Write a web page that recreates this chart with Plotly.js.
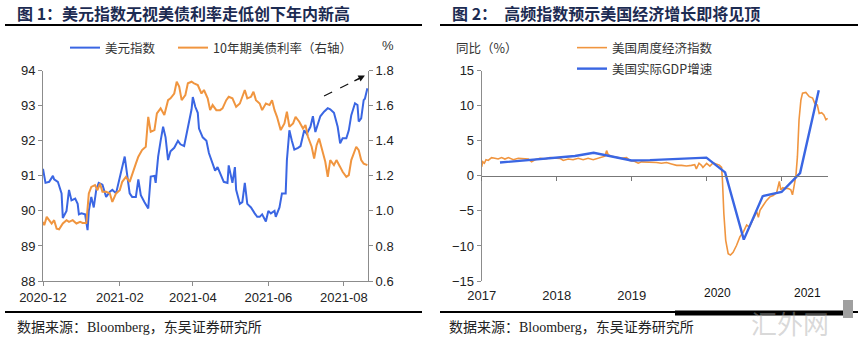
<!DOCTYPE html>
<html>
<head>
<meta charset="utf-8">
<script src="https://cdn.plot.ly/plotly-3.0.1.min.js"></script>
<style>html,body{margin:0;padding:0;background:#fff;}#chart{width:858px;height:341px;}</style>
</head>
<body>
<div id="chart"></div>
<script>
// ---- Figure 1: DXY vs US 10Y yield ----
const dxyDates = ['2020-12-01','2020-12-03','2020-12-06','2020-12-09','2020-12-10','2020-12-13','2020-12-16','2020-12-17','2020-12-20','2020-12-22','2020-12-24','2020-12-27','2020-12-29','2020-12-30','2021-01-01','2021-01-04','2021-01-06','2021-01-07','2021-01-09','2021-01-11','2021-01-13','2021-01-15','2021-01-18','2021-01-21','2021-01-24','2021-01-26','2021-01-29','2021-02-01','2021-02-03','2021-02-05','2021-02-07','2021-02-09','2021-02-11','2021-02-14','2021-02-16','2021-02-18','2021-02-21','2021-02-24','2021-02-26','2021-03-01','2021-03-02','2021-03-04','2021-03-06','2021-03-08','2021-03-10','2021-03-12','2021-03-14','2021-03-17','2021-03-20','2021-03-22','2021-03-25','2021-03-28','2021-03-31','2021-04-01','2021-04-03','2021-04-05','2021-04-06','2021-04-09','2021-04-12','2021-04-14','2021-04-17','2021-04-19','2021-04-21','2021-04-24','2021-04-26','2021-04-29','2021-04-30','2021-05-03','2021-05-05','2021-05-06','2021-05-09','2021-05-11','2021-05-13','2021-05-15','2021-05-18','2021-05-21','2021-05-23','2021-05-25','2021-05-27','2021-05-30','2021-06-01','2021-06-03','2021-06-06','2021-06-07','2021-06-10','2021-06-12','2021-06-15','2021-06-16','2021-06-18','2021-06-20','2021-06-22','2021-06-25','2021-06-27','2021-06-30','2021-07-02','2021-07-05','2021-07-07','2021-07-09','2021-07-11','2021-07-13','2021-07-16','2021-07-19','2021-07-21','2021-07-24','2021-07-27','2021-07-29','2021-07-31','2021-08-03','2021-08-05','2021-08-07','2021-08-10','2021-08-12','2021-08-13','2021-08-15','2021-08-17','2021-08-18','2021-08-20'];
const dxyValues = [91.2,90.8,90.83,91.0,90.9,90.83,90.5,89.8,90.0,90.6,90.3,90.35,90.2,89.9,89.93,89.9,89.45,90.0,90.4,90.1,90.6,90.8,90.75,90.4,90.55,90.6,90.5,91.0,91.25,91.55,90.95,90.5,90.4,90.4,90.9,90.45,90.25,90.07,90.98,91.0,90.8,91.55,92.0,92.4,92.1,91.45,91.7,91.8,92.0,91.9,91.85,92.4,92.9,93.25,92.97,92.8,92.35,92.1,92.0,91.65,91.35,91.15,91.25,90.98,90.83,90.8,91.3,90.8,91.25,90.6,90.2,90.25,90.8,90.2,90.1,89.93,89.83,89.83,89.9,89.7,90.0,89.93,90.0,89.83,90.1,90.5,90.5,91.45,92.3,92.0,91.75,91.8,91.85,92.3,92.2,92.4,92.7,92.25,92.5,92.7,92.83,92.93,92.9,92.8,92.4,91.93,92.07,92.07,92.3,92.73,93.07,93.02,92.55,92.64,93.16,93.2,93.5];

const ustDates = ['2020-12-01','2020-12-02','2020-12-04','2020-12-06','2020-12-08','2020-12-10','2020-12-12','2020-12-14','2020-12-17','2020-12-20','2020-12-22','2020-12-25','2020-12-28','2020-12-31','2021-01-02','2021-01-05','2021-01-07','2021-01-09','2021-01-12','2021-01-14','2021-01-16','2021-01-18','2021-01-21','2021-01-24','2021-01-26','2021-01-29','2021-02-01','2021-02-03','2021-02-06','2021-02-09','2021-02-11','2021-02-14','2021-02-16','2021-02-19','2021-02-22','2021-02-24','2021-02-26','2021-03-01','2021-03-03','2021-03-06','2021-03-09','2021-03-12','2021-03-14','2021-03-17','2021-03-19','2021-03-21','2021-03-23','2021-03-26','2021-03-28','2021-03-31','2021-04-02','2021-04-05','2021-04-08','2021-04-10','2021-04-13','2021-04-15','2021-04-17','2021-04-20','2021-04-23','2021-04-25','2021-04-28','2021-04-30','2021-05-03','2021-05-06','2021-05-09','2021-05-11','2021-05-13','2021-05-15','2021-05-18','2021-05-20','2021-05-22','2021-05-25','2021-05-27','2021-05-30','2021-06-02','2021-06-04','2021-06-06','2021-06-08','2021-06-11','2021-06-14','2021-06-16','2021-06-18','2021-06-21','2021-06-23','2021-06-26','2021-06-29','2021-07-01','2021-07-03','2021-07-06','2021-07-08','2021-07-10','2021-07-12','2021-07-15','2021-07-17','2021-07-19','2021-07-21','2021-07-24','2021-07-26','2021-07-29','2021-07-31','2021-08-03','2021-08-05','2021-08-07','2021-08-09','2021-08-11','2021-08-13','2021-08-15','2021-08-17','2021-08-20'];
const ustValues = [0.937,0.918,0.966,0.947,0.928,0.947,0.899,0.895,0.928,0.947,0.937,0.947,0.928,0.937,0.931,0.931,1.10,1.137,1.147,1.118,1.156,1.109,1.109,1.10,1.051,1.10,1.118,1.166,1.194,1.166,1.213,1.27,1.309,1.347,1.366,1.537,1.451,1.461,1.556,1.585,1.547,1.632,1.642,1.67,1.737,1.709,1.632,1.661,1.728,1.737,1.728,1.718,1.67,1.69,1.642,1.575,1.604,1.575,1.575,1.585,1.632,1.651,1.642,1.594,1.613,1.651,1.69,1.642,1.651,1.68,1.632,1.613,1.575,1.613,1.604,1.632,1.575,1.537,1.461,1.499,1.566,1.48,1.499,1.537,1.509,1.47,1.49,1.423,1.366,1.299,1.375,1.413,1.328,1.28,1.194,1.29,1.261,1.29,1.251,1.223,1.194,1.204,1.29,1.328,1.366,1.347,1.29,1.27,1.261];

const fig1Ticks = ['2020-12-01','2021-02-01','2021-04-01','2021-06-01','2021-08-01'];
const fig1TickText = ['2020-12','2021-02','2021-04','2021-06','2021-08'];

// ---- Figure 2: weekly economic index vs real GDP yoy ----
const weiDates = ['2017-01-01','2017-01-06','2017-01-14','2017-01-22','2017-02-02','2017-02-18','2017-03-06','2017-03-22','2017-04-08','2017-04-24','2017-05-11','2017-06-04','2017-06-28','2017-07-23','2017-08-16','2017-09-01','2017-09-17','2017-10-12','2017-11-05','2017-11-29','2017-12-23','2018-01-17','2018-02-02','2018-02-26','2018-03-22','2018-04-16','2018-05-10','2018-06-03','2018-06-28','2018-07-23','2018-08-08','2018-08-24','2018-09-01','2018-09-09','2018-09-25','2018-10-19','2018-11-12','2018-12-07','2018-12-23','2019-01-12','2019-02-02','2019-02-18','2019-03-14','2019-04-08','2019-05-02','2019-05-26','2019-06-20','2019-07-14','2019-08-08','2019-09-01','2019-09-25','2019-10-19','2019-11-04','2019-11-12','2019-11-25','2019-12-07','2019-12-14','2020-01-01','2020-01-17','2020-02-02','2020-02-18','2020-03-03','2020-03-14','2020-03-18','2020-03-25','2020-04-03','2020-04-15','2020-04-26','2020-05-09','2020-05-26','2020-06-11','2020-06-28','2020-07-14','2020-07-27','2020-08-16','2020-09-01','2020-09-09','2020-09-17','2020-10-03','2020-10-19','2020-11-04','2020-11-20','2020-12-07','2020-12-20','2020-12-27','2021-01-06','2021-01-17','2021-02-02','2021-02-14','2021-02-22','2021-03-01','2021-03-11','2021-03-18','2021-03-26','2021-04-04','2021-04-12','2021-04-28','2021-05-15','2021-05-31','2021-06-11','2021-06-23','2021-07-02','2021-07-14','2021-07-25','2021-08-04','2021-08-12'];
const weiValues = [1.3,2.0,1.8,2.3,2.2,2.6,2.5,2.4,2.6,2.4,2.6,2.3,2.5,2.4,2.4,2.0,2.3,2.5,2.4,2.6,2.6,2.5,2.2,2.4,2.3,2.5,2.3,2.5,2.3,2.5,2.7,2.8,3.6,3.0,2.8,2.7,2.5,2.6,2.2,2.1,1.8,2.0,2.0,1.9,1.9,1.8,1.9,1.7,1.5,1.5,1.4,1.5,1.6,1.0,1.8,1.5,1.2,1.77,1.39,1.86,1.67,1.53,1.2,-0.6,-5.4,-9.2,-11.1,-11.3,-10.9,-9.9,-8.7,-8.0,-7.0,-7.3,-6.1,-5.1,-5.9,-4.9,-4.2,-3.5,-3.0,-2.8,-2.4,-0.8,-2.0,-1.7,-1.8,-1.8,-2.0,-2.7,-1.6,0.1,2.7,8.0,10.8,11.8,11.9,11.3,11.1,10.3,10.1,8.9,9.0,8.7,8.0,8.2];

const gdpDates = ['2017-03-31','2017-06-30','2017-09-30','2017-12-31','2018-03-31','2018-06-30','2018-09-30','2018-12-31','2019-03-31','2019-06-30','2019-09-30','2019-12-31','2020-03-31','2020-06-30','2020-09-30','2020-12-31','2021-03-31','2021-06-30'];
const gdpValues = [1.9,2.13,2.37,2.6,2.83,3.3,2.75,2.2,2.25,2.35,2.45,2.6,0.5,-9.1,-2.9,-2.3,0.4,12.2];

const fig2Ticks = ['2017-01-01','2018-01-01','2019-01-01','2020-01-01','2021-01-01'];
const fig2TickText = ['2017','2018','2019','',''];

const BLUE = '#3a66e3';
const ORANGE = '#f0953f';
const AXIS = '#8c8c8c';
const W = 858, H = 341;
const px = v => v / W;
const py = v => (H - v) / H;
const CJK = 'Noto Sans CJK SC';
const SANS = 'Liberation Sans, Arial, Noto Sans CJK SC';

const traces = [
  {x: dxyDates, y: dxyValues, name: '美元指数', type: 'scatter', mode: 'lines',
   line: {color: BLUE, width: 2}, xaxis: 'x', yaxis: 'y', legend: 'legend'},
  {x: ustDates, y: ustValues, name: '10年期美债利率（右轴）', type: 'scatter', mode: 'lines',
   line: {color: ORANGE, width: 2}, xaxis: 'x', yaxis: 'y2', legend: 'legend3'},
  {x: weiDates, y: weiValues, name: '美国周度经济指数', type: 'scatter', mode: 'lines',
   line: {color: ORANGE, width: 1.6}, xaxis: 'x2', yaxis: 'y3', legend: 'legend2'},
  {x: gdpDates, y: gdpValues, name: '美国实际GDP增速', type: 'scatter', mode: 'lines',
   line: {color: BLUE, width: 2.4}, xaxis: 'x2', yaxis: 'y3', legend: 'legend4'}
];

const axBase = {showgrid: false, zeroline: false, showline: true, linecolor: AXIS, linewidth: 1,
  ticks: 'outside', ticklen: 4, tickcolor: AXIS, tickwidth: 1, fixedrange: true,
  tickfont: {family: SANS, size: 13, color: '#222'}};

const yDom = [py(281), py(70.7)];

const legBase = {orientation: 'h', xanchor: 'left', yanchor: 'middle', bgcolor: 'rgba(0,0,0,0)',
  borderwidth: 0, font: {family: CJK, size: 12.5, color: '#333'}, itemclick: false, itemdoubleclick: false};

const layout = {
  width: W, height: H,
  margin: {l: 0, r: 0, t: 0, b: 0},
  paper_bgcolor: '#fff', plot_bgcolor: '#fff',
  showlegend: true,
  font: {family: SANS, size: 13, color: '#222'},
  xaxis: Object.assign({}, axBase, {domain: [px(43), px(368)], type: 'date',
    range: ['2020-12-01', '2021-08-20 12:00'], tickmode: 'array', tickvals: fig1Ticks, ticktext: fig1TickText, anchor: 'y'}),
  yaxis: Object.assign({}, axBase, {domain: yDom, range: [88, 94], dtick: 1, tick0: 88, anchor: 'x'}),
  yaxis2: Object.assign({}, axBase, {domain: yDom, range: [0.6, 1.8], dtick: 0.2, tick0: 0.6, tickformat: '.1f',
    overlaying: 'y', side: 'right', anchor: 'x'}),
  xaxis2: Object.assign({}, axBase, {domain: [px(481.7), px(828)], type: 'date',
    range: ['2017-01-01', '2021-08-14'], tickmode: 'array', tickvals: fig2Ticks, ticktext: fig2TickText,
    anchor: 'free', position: py(175.7), ticklabelstandoff: 104, linecolor: '#777', tickcolor: '#777'}),
  yaxis3: Object.assign({}, axBase, {domain: yDom, range: [-15, 15], dtick: 5, tick0: -15, anchor: 'x2'}),
  legend: Object.assign({}, legBase, {x: px(65), y: py(48)}),
  legend3: Object.assign({}, legBase, {x: px(173), y: py(48)}),
  legend2: Object.assign({}, legBase, {x: px(572), y: py(48)}),
  legend4: Object.assign({}, legBase, {x: px(572), y: py(69)}),
  shapes: [
    {type: 'line', xref: 'paper', yref: 'paper', x0: px(5), x1: px(422), y0: py(25), y1: py(25), line: {color: '#000', width: 2}},
    {type: 'line', xref: 'paper', yref: 'paper', x0: px(440), x1: px(858), y0: py(25), y1: py(25), line: {color: '#000', width: 2}},
    {type: 'line', xref: 'paper', yref: 'paper', x0: px(5), x1: px(422), y0: py(312), y1: py(312), line: {color: '#000', width: 2}},
    {type: 'line', xref: 'paper', yref: 'paper', x0: px(440), x1: px(858), y0: py(312), y1: py(312), line: {color: '#000', width: 2}},
    {type: 'line', xref: 'paper', yref: 'paper', x0: px(675), x1: px(846), y0: py(313), y1: py(313), line: {color: '#000', width: 5}},
    {type: 'rect', xref: 'paper', yref: 'paper', x0: px(843), x1: px(853), y0: py(318), y1: py(300), line: {width: 0}, fillcolor: '#a0a0a0'},
    {type: 'line', xref: 'x', yref: 'y', x0: '2021-07-16', y0: 93.28, x1: '2021-08-16', y1: 93.82, line: {color: '#111', width: 1.2, dash: 'dash'}}
  ],
  annotations: [
    {xref: 'paper', yref: 'paper', x: px(15), y: py(13), xanchor: 'left', yanchor: 'middle', showarrow: false,
     text: '<b>图 1：美元指数无视美债利率走低创下年内新高</b>', font: {family: CJK, size: 16, color: '#1c2b52'}},
    {xref: 'paper', yref: 'paper', x: px(450), y: py(13), xanchor: 'left', yanchor: 'middle', showarrow: false,
     text: '<b>图 2：\u00a0\u00a0高频指数预示美国经济增长即将见顶</b>', font: {family: CJK, size: 16, color: '#1c2b52'}},
    {xref: 'paper', yref: 'paper', x: px(388), y: py(45), xanchor: 'center', yanchor: 'middle', showarrow: false,
     text: '%', font: {family: SANS, size: 13, color: '#333'}},
    {xref: 'paper', yref: 'paper', x: px(454), y: py(48), xanchor: 'left', yanchor: 'middle', showarrow: false,
     text: '同比（%）', font: {family: CJK, size: 12.5, color: '#333'}},
    {xref: 'paper', yref: 'paper', x: px(717), y: py(293), xanchor: 'center', yanchor: 'middle', showarrow: false,
     text: '2020', font: {family: SANS, size: 12, color: '#111'}},
    {xref: 'paper', yref: 'paper', x: px(807), y: py(293), xanchor: 'center', yanchor: 'middle', showarrow: false,
     text: '2021', font: {family: SANS, size: 12, color: '#111'}},
    {xref: 'paper', yref: 'paper', x: px(790), y: py(322), xanchor: 'center', yanchor: 'middle', showarrow: false,
     text: '汇外网', font: {family: CJK, size: 26, color: 'rgba(170,170,170,0.45)'}},
    {xref: 'paper', yref: 'paper', x: px(15), y: py(327), xanchor: 'left', yanchor: 'middle', showarrow: false,
     text: '数据来源：Bloomberg，东吴证券研究所', font: {family: 'Liberation Serif, Noto Sans CJK SC', size: 14, color: '#222'}},
    {xref: 'paper', yref: 'paper', x: px(447), y: py(327), xanchor: 'left', yanchor: 'middle', showarrow: false,
     text: '数据来源：Bloomberg，东吴证券研究所', font: {family: 'Liberation Serif, Noto Sans CJK SC', size: 14, color: '#222'}},
    {xref: 'x', yref: 'y', x: '2021-08-18', y: 93.86, ax: -12, ay: 6, axref: 'pixel', ayref: 'pixel', text: '',
     showarrow: true, arrowhead: 2, arrowsize: 1, arrowwidth: 1.3, arrowcolor: '#111'}
  ]
};

Plotly.newPlot('chart', traces, layout, {staticPlot: true, displayModeBar: false});
</script>
</body>
</html>
